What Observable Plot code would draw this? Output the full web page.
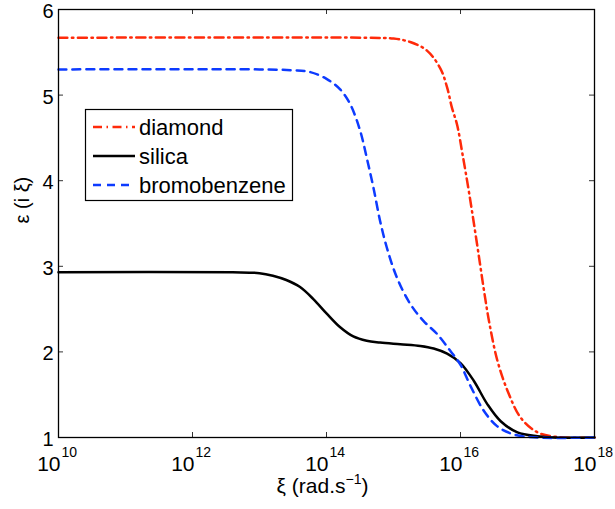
<!DOCTYPE html>
<html><head><meta charset="utf-8">
<script src="https://cdn.jsdelivr.net/npm/d3@7"></script>
<script src="https://cdn.jsdelivr.net/npm/@observablehq/plot@0.6"></script>
<style>body{margin:0;background:#fff;}</style>
</head><body><div id="chart"></div>
<script>
// ---- data (x given as log10 of ξ) ----
const seriesNames = ["diamond", "silica", "bromobenzene"];
const seriesColors = ["#ff2a0a", "#000000", "#0d3bff"];
const seriesDash = ["9,4.5,1.5,4.5", null, "8,6"];

const diamondLogXi = [10, 14.6, 15.0, 15.25, 15.5, 15.7, 15.8, 15.87, 15.95, 16.03, 16.13, 16.27, 16.35, 16.43, 16.55, 16.7, 16.9, 17.15, 17.45, 18];
const diamondEps   = [5.67, 5.67, 5.66, 5.62, 5.52, 5.31, 5.09, 4.86, 4.65, 4.31, 3.85, 3.14, 2.72, 2.34, 1.90, 1.55, 1.23, 1.06, 1.005, 1.0];

const silicaLogXi = [10, 12.6, 13.0, 13.2, 13.4, 13.6, 13.8, 14.0, 14.2, 14.4, 14.6, 14.8, 15.1, 15.4, 15.6, 15.8, 16.0, 16.2, 16.4, 16.6, 16.85, 17.15, 17.4, 18];
const silicaEps   = [2.93, 2.93, 2.92, 2.89, 2.84, 2.76, 2.62, 2.45, 2.29, 2.18, 2.13, 2.11, 2.09, 2.07, 2.04, 1.98, 1.87, 1.66, 1.39, 1.19, 1.06, 1.015, 1.0, 1.0];

const bromoLogXi = [10, 13.0, 13.5, 13.75, 14.0, 14.2, 14.35, 14.5, 14.6, 14.7, 14.8, 14.9, 15.05, 15.25, 15.45, 15.65, 15.85, 16.0, 16.15, 16.35, 16.55, 16.8, 17.15, 18];
const bromoEps   = [5.30, 5.30, 5.29, 5.27, 5.19, 5.07, 4.90, 4.59, 4.27, 3.92, 3.53, 3.22, 2.87, 2.56, 2.36, 2.21, 2.01, 1.85, 1.60, 1.31, 1.13, 1.035, 1.0, 1.0];

const xTickExponents = [10, 12, 14, 16, 18];
const yTicks = [1, 2, 3, 4, 5, 6];
const xLabelText = "ξ (rad.s";
const xLabelSup = "−1";
const yLabelText = "ε (i ξ)";

// ---- build tables ----
function rows(lx, eps) { return lx.map((v, i) => ({xi: 10 ** v, eps: eps[i]})); }
const tables = [rows(diamondLogXi, diamondEps), rows(silicaLogXi, silicaEps), rows(bromoLogXi, bromoEps)];
const xTicks = xTickExponents.map(e => 10 ** e);

const font = "'Liberation Sans', Arial, Helvetica, sans-serif";
const W = 615, H = 509, ML = 58, MR = 21, MT = 9, MB = 72;
const frameW = W - ML - MR, frameH = H - MT - MB, tickLen = 5;

const svg = Plot.plot({
  width: W, height: H,
  marginLeft: ML, marginRight: MR, marginTop: MT, marginBottom: MB,
  style: {fontFamily: font, background: "white", color: "black", overflow: "visible"},
  x: {type: "log", domain: [1e10, 1e18], axis: null},
  y: {domain: [1, 6], axis: null},
  marks: [
    // inward ticks on all four sides
    Plot.tickX(xTicks, {x: d => d, insetTop: frameH - tickLen, stroke: "#333", strokeWidth: 1}),
    Plot.tickX(xTicks, {x: d => d, insetBottom: frameH - tickLen, stroke: "#333", strokeWidth: 1}),
    Plot.tickY(yTicks, {y: d => d, insetRight: frameW - tickLen, stroke: "#333", strokeWidth: 1}),
    Plot.tickY(yTicks, {y: d => d, insetLeft: frameW - tickLen, stroke: "#333", strokeWidth: 1}),
    ...tables.map((t, i) => Plot.line(t, {
      x: "xi", y: "eps", stroke: seriesColors[i], strokeWidth: 2.5,
      strokeDasharray: seriesDash[i], curve: "catmull-rom"
    })),
    Plot.frame({stroke: "black", strokeWidth: 1.3}),
    Plot.text(yTicks, {y: d => d, frameAnchor: "left", text: d => String(d),
      textAnchor: "end", dx: -5, dy: 2, fontSize: 20}),
    Plot.text(xTickExponents, {x: d => 10 ** d, frameAnchor: "bottom", text: () => "10",
      textAnchor: "end", lineAnchor: "bottom", dx: 2, dy: 33, fontSize: 21}),
    Plot.text(xTickExponents, {x: d => 10 ** d, frameAnchor: "bottom", text: d => String(d),
      textAnchor: "start", lineAnchor: "bottom", dx: 3, dy: 19, fontSize: 14}),
    Plot.text([xLabelText], {frameAnchor: "bottom", text: d => d, lineAnchor: "bottom",
      dx: -4, dy: 55, fontSize: 21}),
    Plot.text([yLabelText], {frameAnchor: "left", text: d => d, rotate: -90,
      dx: -36, fontSize: 20})
  ]
});

// superscript on x label
d3.select(svg).selectAll("text").filter(function() { return this.textContent === xLabelText; })
  .each(function() {
    const t = d3.select(this);
    t.text(null);
    t.append("tspan").text(xLabelText);
    t.append("tspan").attr("dy", -9).attr("font-size", 14).text(xLabelSup);
    t.append("tspan").attr("dy", 9).text(")");
  });

// legend
const lg = d3.select(svg).append("g").attr("font-family", font).attr("font-size", 22)
  .attr("text-anchor", "start");
lg.append("rect").attr("x", 85.5).attr("y", 109.5).attr("width", 207).attr("height", 91)
  .attr("fill", "white").attr("stroke", "black").attr("stroke-width", 1.2);
seriesNames.forEach((name, i) => {
  const y = 127 + i * 29;
  lg.append("line").attr("x1", 93).attr("x2", 135).attr("y1", y).attr("y2", y)
    .attr("stroke", seriesColors[i]).attr("stroke-width", 2.5)
    .attr("stroke-dasharray", seriesDash[i]);
  lg.append("text").attr("x", 139).attr("y", y).attr("dy", "0.35em")
    .attr("text-anchor", "start").attr("fill", "black").text(name);
});

document.getElementById("chart").appendChild(svg);
</script>
</body></html>
